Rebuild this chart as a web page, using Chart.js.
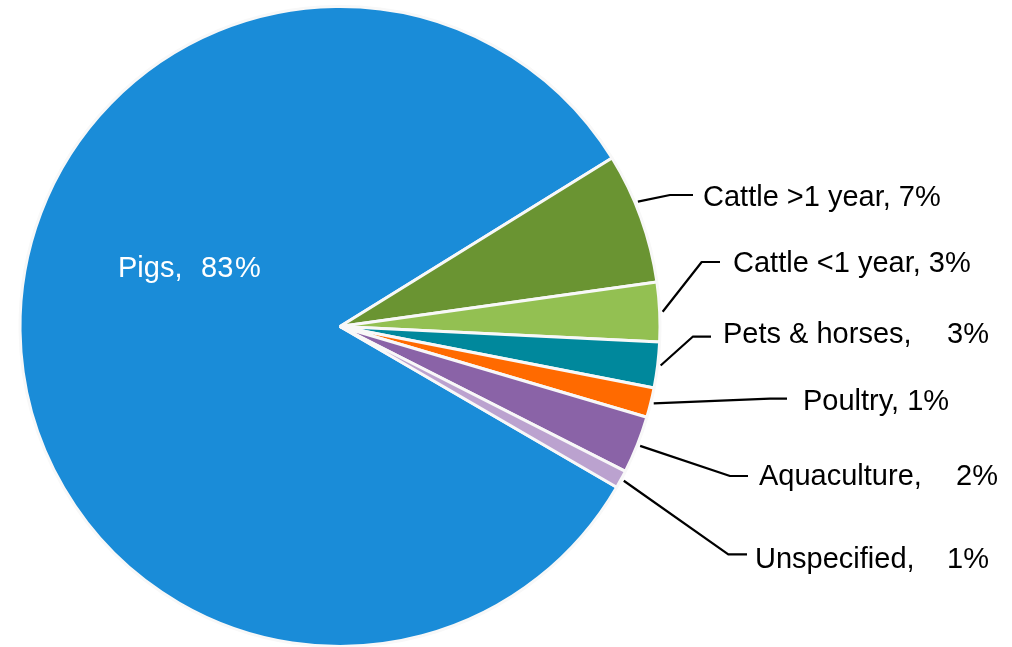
<!DOCTYPE html>
<html>
<head>
<meta charset="utf-8">
<script src="https://cdn.jsdelivr.net/npm/chart.js@4/dist/chart.umd.min.js"></script>
<style>
  html, body { margin: 0; padding: 0; background: #ffffff; overflow: hidden; }
  #wrap { width: 1012px; height: 647px; overflow: hidden; position: relative; }
  canvas { display: block; }
</style>
</head>
<body>
<div id="wrap"><canvas id="c" width="1012" height="660"></canvas></div>
<script>
// ---- data ----
const categories = ["Pigs", "Cattle >1 year", "Cattle <1 year", "Pets & horses", "Poultry", "Aquaculture", "Unspecified"];
const shareValues = [82.8, 6.6, 3.0, 2.3, 1.5, 2.9, 0.9];
const percentLabels = ["83", "7%", "3%", "3%", "1%", "2%", "1%"];

// ---- styles / layout (not data) ----
const sliceColors = ["#1a8cd8", "#6a9432", "#93c052", "#00889c", "#ff6a00", "#8a63a7", "#bba2cf"];
const FONT = '29px "Liberation Sans", Arial, sans-serif';
const labelLayout = [
  null, // Pigs label is drawn inside its slice
  { frac: 0.38, elbow: [670, 195], end: 693, textX: 703, base: 206 },
  { frac: 0.5, elbow: [701.7, 262], end: 720, textX: 733, base: 272.3 },
  { frac: 0.5, elbow: [692.7, 336.7], end: 711, textX: 723, base: 343.3, pctRight: 989 },
  { frac: 0.5, elbow: [770, 398.6], end: 787, textX: 803, base: 410 },
  { frac: 0.5, elbow: [730, 476], end: 748, textX: 759, base: 485, pctRight: 998 },
  { frac: 0.5, elbow: [728.3, 554.3], end: 747, textX: 755, base: 568.3, pctRight: 989 }
];
const insideLayout = { nameX: 118, numX: 201, pctX: 235, base: 276.7 };

const labelPlugin = {
  id: 'pieLabels',
  afterDraw(chart) {
    const ctx = chart.ctx;
    const meta = chart.getDatasetMeta(0);
    ctx.save();
    ctx.font = FONT;
    ctx.textBaseline = 'alphabetic';
    meta.data.forEach((arc, i) => {
      const p = arc.getProps(['x', 'y', 'startAngle', 'endAngle', 'outerRadius'], true);
      if (i === 0) {
        ctx.fillStyle = '#ffffff';
        ctx.textAlign = 'left';
        ctx.fillText(categories[0] + ',', insideLayout.nameX, insideLayout.base);
        ctx.fillText(percentLabels[0], insideLayout.numX, insideLayout.base);
        ctx.fillText('%', insideLayout.pctX, insideLayout.base);
        return;
      }
      const L = labelLayout[i];
      const a = p.startAngle + (p.endAngle - p.startAngle) * L.frac;
      const r = p.outerRadius + 3;
      const sx = p.x + Math.cos(a) * r;
      const sy = p.y + Math.sin(a) * r;
      ctx.strokeStyle = '#000000';
      ctx.lineWidth = 2.2;
      ctx.lineJoin = 'round';
      ctx.beginPath();
      ctx.moveTo(sx, sy);
      ctx.lineTo(L.elbow[0], L.elbow[1]);
      ctx.lineTo(L.end, L.elbow[1]);
      ctx.stroke();
      ctx.fillStyle = '#000000';
      if (L.pctRight) {
        ctx.textAlign = 'left';
        ctx.fillText(categories[i] + ',', L.textX, L.base);
        ctx.textAlign = 'right';
        ctx.fillText(percentLabels[i], L.pctRight, L.base);
      } else {
        ctx.textAlign = 'left';
        ctx.fillText(categories[i] + ', ' + percentLabels[i], L.textX, L.base);
      }
    });
    ctx.restore();
  }
};

new Chart(document.getElementById('c'), {
  type: 'pie',
  data: {
    labels: categories,
    datasets: [{
      data: shareValues,
      backgroundColor: sliceColors,
      borderColor: '#f8f8f8',
      borderWidth: 3
    }]
  },
  options: {
    responsive: false,
    animation: false,
    rotation: 120.15,
    layout: { padding: { left: 18.5, right: 350.5, top: 5, bottom: 12 } },
    plugins: { legend: { display: false }, tooltip: { enabled: false } }
  },
  plugins: [labelPlugin]
});
</script>
</body>
</html>
